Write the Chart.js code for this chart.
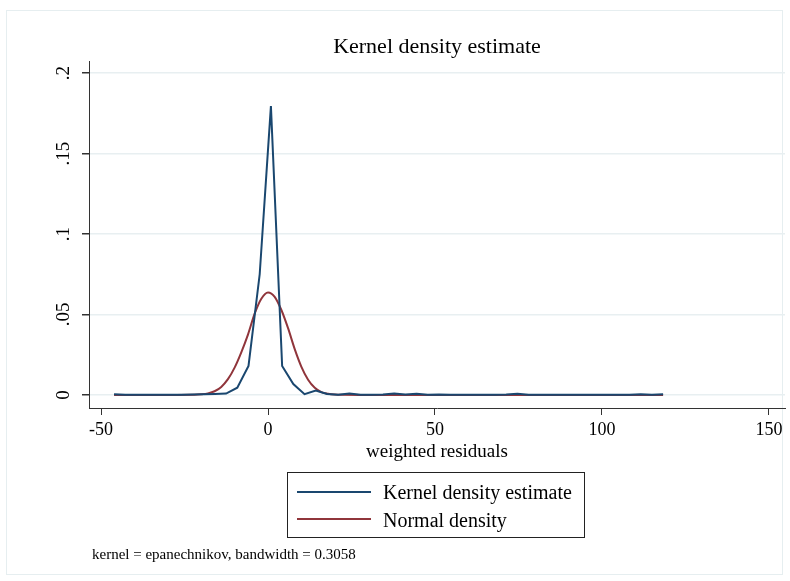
<!DOCTYPE html>
<html>
<head>
<meta charset="utf-8">
<script src="https://cdn.jsdelivr.net/npm/chart.js@4.4.1/dist/chart.umd.min.js"></script>
<style>
  body { margin: 0; background: #fff; }
  #wrap { position: relative; width: 790px; height: 581px; font-family: "Liberation Serif", "Times New Roman", serif; color: #000; }
  #frame { position: absolute; left: 6px; top: 10px; width: 777px; height: 565px; border: 1px solid #e6eef0; box-sizing: border-box; }
  canvas { position: absolute; left: 0; top: 0; }
  .txt { position: absolute; white-space: nowrap; line-height: 1; }
  #legend { position: absolute; left: 287px; top: 472px; width: 298px; height: 66px; border: 1px solid #222; box-sizing: border-box; }
  .swatch { position: absolute; left: 297px; width: 74px; height: 2px; }
</style>
</head>
<body>
<div id="wrap">
  <div id="frame"></div>
  <canvas id="kdeChart" width="790" height="581"></canvas>
  <div class="txt" id="title" style="font-size:22px; top:35px; left:0; width:790px; padding-left:84px; box-sizing:border-box; text-align:center;"></div>
  <div class="txt" id="xTitle" style="font-size:19px; top:441px; left:0; width:790px; padding-left:84px; box-sizing:border-box; text-align:center;"></div>
  <div id="legend"></div>
  <div class="swatch" style="top:491px; background:#1a476f;"></div>
  <div class="swatch" style="top:518px; background:#90353b;"></div>
  <div class="txt" id="leg1" style="font-size:20px; left:383px; top:482px;"></div>
  <div class="txt" id="leg2" style="font-size:20px; left:383px; top:510px;"></div>
  <div class="txt" id="note" style="font-size:15px; left:92px; top:547px;"></div>
</div>
<script>
// Text
const chartTitle = 'Kernel density estimate';
const xAxisTitle = 'weighted residuals';
const seriesNames = ['Kernel density estimate', 'Normal density'];
const noteText = 'kernel = epanechnikov, bandwidth = 0.3058';

// Tick values and labels
const xTickValues = [-50, 0, 50, 100, 150];
const yTickValues = [0, 0.05, 0.1, 0.15, 0.2];
const yTickLabels = ['0', '.05', '.1', '.15', '.2'];

// Kernel density estimate (50 evaluation points)
const kdeX = [-46.10, -42.75, -39.39, -36.04, -32.68, -29.33, -25.97, -22.62, -19.26, -15.91,
              -12.55, -9.20, -5.84, -2.49, 0.87, 4.23, 7.58, 10.94, 14.29, 17.65,
              21.00, 24.36, 27.71, 31.07, 34.42, 37.78, 41.13, 44.49, 47.84, 51.20,
              54.55, 57.91, 61.26, 64.62, 67.97, 71.33, 74.68, 78.04, 81.39, 84.75,
              88.10, 91.46, 94.81, 98.17, 101.52, 104.88, 108.23, 111.59, 114.94, 118.30];
const kdeY = [0.0005, 0.0002, 0.0001, 0.0001, 0.0001, 0.0002, 0.0002, 0.0003, 0.0004, 0.0006,
              0.0009, 0.0045, 0.018, 0.075, 0.1795, 0.018, 0.0068, 0.0005, 0.0028, 0.0006,
              0.0002, 0.0009, 0.0002, 0.0001, 0.0003, 0.0009, 0.0003, 0.0008, 0.0002, 0.0003,
              0.0001, 0.0001, 0.0001, 0.0001, 0.0002, 0.0003, 0.0008, 0.0002, 0.0001, 0.0001,
              0.0001, 0.0001, 0.0001, 0.0001, 0.0001, 0.0001, 0.0002, 0.0005, 0.0002, 0.0004];

// Normal density overlay
const normX = [-46.1, -30, -22, -20, -18, -16, -14, -12, -10, -8, -6, -4, -2, 0, 2, 4, 6, 8, 10, 12, 14, 16, 18, 20, 22, 30, 60, 118.3];
const normY = [0, 0, 0.0001, 0.0004, 0.0010, 0.0023, 0.0050, 0.0098, 0.0170, 0.0265, 0.0375, 0.0505, 0.0598, 0.0637, 0.0610, 0.0528, 0.0415, 0.0285, 0.0175, 0.0095, 0.0045, 0.0018, 0.0008, 0.0003, 0.0001, 0, 0, 0];

document.getElementById('title').textContent = chartTitle;
document.getElementById('xTitle').textContent = xAxisTitle;
document.getElementById('leg1').textContent = seriesNames[0];
document.getElementById('leg2').textContent = seriesNames[1];
document.getElementById('note').textContent = noteText;

// Rotated y tick labels, the way Stata prints them
const yLabelPlugin = {
    id: 'yLabels',
    afterDraw(chart) {
        const ctx = chart.ctx;
        const y = chart.scales.y;
        ctx.save();
        ctx.font = '19px "Liberation Serif"';
        ctx.fillStyle = '#000';
        ctx.textAlign = 'center';
        ctx.textBaseline = 'middle';
        yTickValues.forEach((v, i) => {
            ctx.save();
            ctx.translate(64, y.getPixelForValue(v));
            ctx.rotate(-Math.PI / 2);
            ctx.fillText(yTickLabels[i], 0, 0);
            ctx.restore();
        });
        ctx.restore();
    }
};

const ctx = document.getElementById('kdeChart').getContext('2d');
new Chart(ctx, {
    type: 'line',
    data: {
        datasets: [{
            label: seriesNames[0],
            data: kdeX.map((x, i) => ({ x: x, y: kdeY[i] })),
            borderColor: '#1a476f',
            borderWidth: 2,
            pointRadius: 0,
            tension: 0
        }, {
            label: seriesNames[1],
            data: normX.map((x, i) => ({ x: x, y: normY[i] })),
            borderColor: '#90353b',
            borderWidth: 2,
            pointRadius: 0,
            cubicInterpolationMode: 'monotone'
        }]
    },
    options: {
        responsive: false,
        animation: false,
        layout: { padding: { top: 61, right: 5, bottom: 113, left: 0 } },
        plugins: { legend: { display: false }, tooltip: { enabled: false } },
        scales: {
            x: {
                type: 'linear',
                min: -53.6,
                max: 154.8,
                afterBuildTicks: (scale) => { scale.ticks = xTickValues.map(v => ({ value: v })); },
                afterFit: (scale) => { scale.height = 60; },
                grid: { drawOnChartArea: false, tickLength: 7, tickColor: '#333', lineWidth: 1 },
                border: { color: '#333', width: 1 },
                ticks: { color: '#000', font: { family: 'Liberation Serif', size: 18 }, padding: 4, maxRotation: 0 }
            },
            y: {
                type: 'linear',
                min: -0.0081,
                max: 0.2075,
                afterBuildTicks: (scale) => { scale.ticks = yTickValues.map(v => ({ value: v })); },
                afterFit: (scale) => { scale.width = 89; },
                grid: { color: '#e8eff1', lineWidth: 1.5, tickLength: 7, tickColor: '#333' },
                border: { color: '#333', width: 1 },
                ticks: { display: false }
            }
        }
    },
    plugins: [yLabelPlugin]
});
</script>
</body>
</html>
